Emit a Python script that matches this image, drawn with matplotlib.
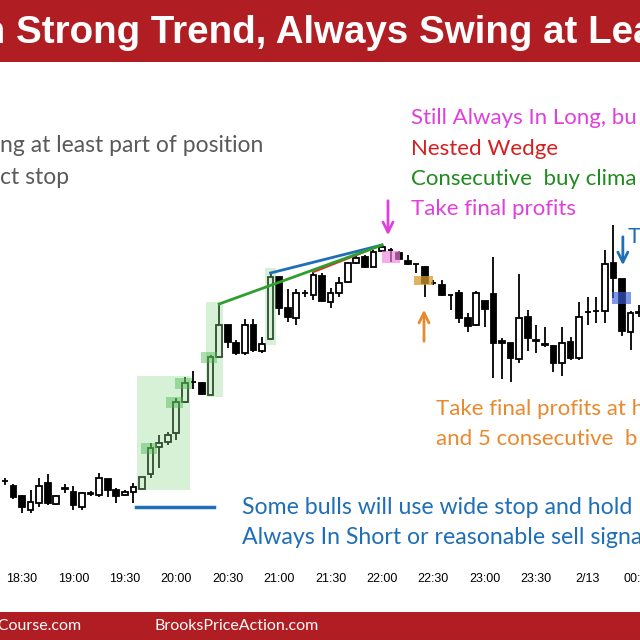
import matplotlib.pyplot as plt
from matplotlib.patches import Rectangle

# ----------------- data (5-min bars, bar k = 18:00 + 5k min) -----------------
first_bar = 4
opens = [119, 114, 104, 90, 97, 117, 96, 112, 108, 93, 107, 105, 121, 110, 105, 108, 111,
         126, 153, 158, 167, 198, 218, 217, 205, 243, 275, 257, 247, 275, 249, 261, 323,
         292, 282, 307, 305, 324, 298, 307, 318, 337, 343, 333, 349, 350, 347, 339, 336,
         333, 317, 315, 305, 307, 282, 275, 299, 306, 259, 257, 241, 283, 260, 256, 254,
         237, 258, 242, 288, 289, 289, 337, 321, 268, 287]
highs = [122, 116, 105, 110, 122, 126, 105, 116, 114, 108, 109, 127, 121, 112, 110, 117, 123,
         157, 165, 168, 202, 223, 229, 218, 245, 296, 275, 260, 281, 281, 263, 327, 323,
         311, 311, 310, 328, 327, 312, 323, 338, 344, 345, 350, 355, 352, 349, 345, 336,
         334, 320, 320, 305, 310, 287, 309, 299, 343, 262, 257, 326, 290, 275, 273, 255,
         273, 263, 298, 303, 303, 350, 375, 321, 289, 295]
lows = [115, 101, 87, 87, 93, 95, 95, 107, 90, 90, 104, 103, 103, 97, 104, 97, 111,
        122, 132, 155, 160, 197, 211, 205, 205, 242, 252, 245, 245, 248, 247, 260, 285,
        278, 275, 303, 300, 298, 292, 303, 317, 336, 332, 333, 348, 338, 340, 335, 327,
        303, 315, 304, 290, 277, 268, 274, 273, 222, 221, 218, 237, 249, 247, 253, 228,
        224, 240, 240, 275, 277, 277, 302, 264, 250, 283]
closes = [119, 103, 93, 98, 114, 97, 104, 111, 95, 107, 106, 122, 110, 104, 108, 113, 123,
          152, 157, 165, 198, 217, 218, 206, 243, 275, 258, 247, 275, 250, 256, 323, 292,
          283, 307, 307, 325, 299, 307, 317, 337, 342, 333, 348, 353, 350, 341, 336, 336,
          317, 317, 305, 305, 282, 274, 307, 291, 257, 257, 242, 282, 262, 259, 255, 237,
          257, 242, 283, 288, 289, 336, 322, 269, 287, 288]
tick_bars = [6, 12, 18, 24, 30, 36, 42, 48, 54, 60, 66, 72, 78]
tick_labels = ["18:30", "19:00", "19:30", "20:00", "20:30", "21:00", "21:30",
               "22:00", "22:30", "23:00", "23:30", "2/13", "00:30"]

# bars that get marked
climax_box = (20, 25)
climax_box2 = (28, 29)
climax_box3 = (35, 35)
climax_bars = [21, 24, 25, 28]
stop_level = 93

RED = "#B01E23"
MAG = "#E03FDB"
GRN = "#1E8C1E"
ORG = "#E8892E"
BLU = "#1F6EB8"
FONT = "Lato"

bars = list(range(first_bar, first_bar + len(opens)))

fig = plt.figure(figsize=(6.4, 6.4), dpi=100)
ax = fig.add_axes([0, 0.125, 1, 0.75])
ax.set_xlim(3.434, 78.10)
ax.set_ylim(40, 520)
for s in ax.spines.values():
    s.set_visible(False)
ax.set_yticks([])
ax.set_xticks(tick_bars, tick_labels, family="Liberation Sans", fontsize=9)
ax.tick_params(axis="x", length=0, pad=9)

def fx(x):
    return x / 640

def fy(y):
    return 1 - y / 640

# ----------------- candles -----------------
ax.vlines(bars, lows, highs, color="black", lw=1.3, zorder=2)
bottoms = [min(o, c) for o, c in zip(opens, closes)]
heights = [abs(c - o) for o, c in zip(opens, closes)]
fills = ["white" if c >= o else "black" for o, c in zip(opens, closes)]
ax.bar(bars, heights, bottom=bottoms, width=0.66, color=fills, edgecolor="black",
       lw=1.3, zorder=2.5)

# ----------------- highlight boxes -----------------
def span_box(a, b, pad, half, color, alpha):
    lo = min(lows[a - first_bar:b - first_bar + 1]) - pad
    hi = max(highs[a - first_bar:b - first_bar + 1]) + pad
    ax.add_patch(Rectangle((a - half, lo), b - a + 2 * half, hi - lo,
                           color=color, alpha=alpha, lw=0, zorder=3))

span_box(*climax_box, 1, 0.55, "#8CD98C", 0.35)
span_box(*climax_box2, 2, 0.5, "#8CD98C", 0.35)
span_box(*climax_box3, 5, 0.65, "#8CD98C", 0.35)
for b in climax_bars:
    c = closes[b - first_bar]
    ax.add_patch(Rectangle((b - 1.15, c - 5.5), 1.95, 11, color="#4CB84C",
                           alpha=0.45, lw=0, zorder=3))

ax.add_patch(Rectangle((48, 337), 2.1, 12, color="#F080E0", alpha=0.65, lw=0, zorder=3))
ax.add_patch(Rectangle((51.7, 315), 2.3, 9, color="#D49A30", alpha=0.75, lw=0, zorder=3))
ax.add_patch(Rectangle((74.8, 296), 2.2, 12, color="#3A5FD8", alpha=0.65, lw=0, zorder=3))

# ----------------- lines -----------------
top = highs[48 - first_bar]
ax.plot([40, 48], [highs[40 - first_bar], top], color="#E03020", lw=1.5, zorder=4)
ax.plot([35, 48], [highs[35 - first_bar], top], color=BLU, lw=2, zorder=4)
ax.plot([29, 48], [highs[29 - first_bar], top], color="#2E9E2E", lw=2, zorder=4)
ax.plot([19.3, 28.4], [stop_level, stop_level], color=BLU, lw=2.5, zorder=4)

# ----------------- arrows -----------------
def arrow(x, y0, y1, color):
    ax.annotate("", xy=(x, y1), xytext=(x, y0),
                arrowprops=dict(arrowstyle="->", lw=2, color=color, mutation_scale=18),
                zorder=5)

arrow(48.7, 402, 362, MAG)
arrow(52.9, 256, 293, ORG)
arrow(76.1, 366, 332, BLU)

# ----------------- title / footer -----------------
fig.add_artist(Rectangle((0, fy(62)), 1, 62 / 640, transform=fig.transFigure,
                         color=RED, lw=0, zorder=0))
fig.add_artist(Rectangle((0, 0), 1, 28 / 640, transform=fig.transFigure,
                         color=RED, lw=0, zorder=0))
fig.text(fx(-29), fy(33), "In Strong Trend, Always Swing at Least", color="white",
         family="Liberation Sans", fontweight="bold", fontsize=27.7, va="center")
fig.text(fx(82), fy(626), "BrooksTradingCourse.com", color="white", family=FONT,
         fontsize=11.5, ha="right", va="center")
fig.text(fx(154), fy(626), "BrooksPriceAction.com", color="white", family=FONT,
         fontsize=11.5, ha="left", va="center")

# ----------------- notes -----------------
def note(x, y, s, color, size=16):
    fig.text(fx(x), fy(y), s, color=color, family=FONT, fontsize=size, va="center")

note(0, 145, "ng at least part of position", "#5A5A5A", 16.5)
note(0, 178, "ct stop", "#5A5A5A", 16.5)
note(411, 118, "Still Always In Long, bu", MAG)
note(411, 149, "Nested Wedge", "#D42020")
note(411, 179, "Consecutive  buy clima", GRN)
note(411, 209, "Take final profits", MAG)
note(628, 237, "T", BLU)
note(436, 409, "Take final profits at h", ORG)
note(436, 439, "and 5 consecutive  b", ORG)
note(242, 508, "Some bulls will use wide stop and hold", BLU, 16.7)
note(242, 538, "Always In Short or reasonable sell signa", BLU, 16.7)

fig.savefig("out.png", dpi=100)
